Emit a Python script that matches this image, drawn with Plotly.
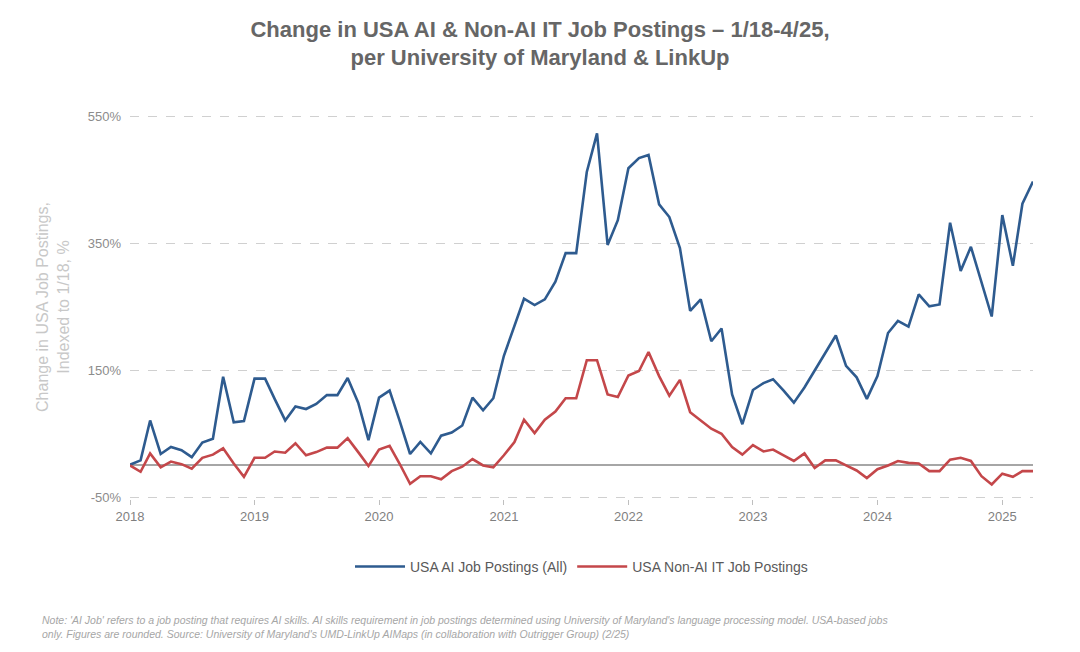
import pandas as pd
import plotly.graph_objects as go

months = pd.date_range("2018-01-01", "2025-04-01", freq="MS")

ai_postings = [
    1, 8, 71, 18, 29, 24, 13, 36, 42, 140, 68, 70,
    137, 137, 105, 71, 93, 89, 97, 111, 111, 138, 99, 40,
    107, 118, 71, 18, 37, 19, 47, 52, 63, 107, 87, 106,
    173, 220, 263, 253, 262, 290, 335, 335, 463, 524, 348, 387,
    469, 485, 490, 412, 392, 343, 244, 262, 196, 216, 112, 65,
    119, 130, 136, 118, 99, 123, 149, 178, 205, 157, 139, 105,
    141, 209, 228, 219, 270, 251, 254, 383, 307, 345, 290, 235,
    395, 315, 413, 448,
]
non_ai_postings = [
    0, -10, 19, -3, 6, 2, -5, 12, 17, 27, 3, -18,
    12, 12, 22, 20, 35, 16, 21, 28, 28, 43, 21, -1,
    25, 31, 3, -29, -17, -17, -22, -9, -2, 10, 0, -3,
    16, 37, 72, 51, 72, 85, 106, 106, 166, 166, 112, 108,
    142, 149, 179, 141, 110, 135, 84, 71, 58, 50, 29, 17,
    32, 22, 25, 16, 7, 19, -4, 8, 8, 0, -8, -20,
    -6, 0, 7, 4, 3, -9, -9, 9, 12, 7, -17, -30,
    -13, -18, -9, -9,
]
year_ticks = [str(y) for y in range(2018, 2026)]
y_ticks = [-50, 150, 350, 550]

font = "Liberation Sans, Arial, sans-serif"

fig = go.Figure()
fig.add_trace(go.Scatter(x=months, y=ai_postings, mode="lines",
                         name="USA AI Job Postings (All)",
                         line=dict(color="#2e5b8f", width=2.6)))
fig.add_trace(go.Scatter(x=months, y=non_ai_postings, mode="lines",
                         name="USA Non-AI IT Job Postings",
                         line=dict(color="#c4474a", width=2.6)))

# page body adds an 8px margin, so the figure is a bit smaller than the window
fig.update_layout(
    width=1064, height=636,
    paper_bgcolor="white", plot_bgcolor="white",
    margin=dict(l=122, r=39, t=107, b=145),
    font=dict(family=font, color="#7f7f7f"),
    title=dict(
        text="<b>Change in USA AI & Non-AI IT Job Postings – 1/18-4/25,<br>per University of Maryland & LinkUp</b>",
        x=0.5, xanchor="center", y=0.955, yanchor="top",
        font=dict(size=22, color="#666666"),
    ),
    showlegend=True,
    legend=dict(orientation="h", x=0.5, xanchor="center", y=-0.135, yanchor="top",
                font=dict(size=14, color="#595959"), itemwidth=50),
    xaxis=dict(
        range=[months[0], months[-1]],
        tickvals=[pd.Timestamp(y + "-01-01") for y in year_ticks],
        ticktext=year_ticks,
        showgrid=False, zeroline=False,
        ticks="outside", ticklen=5, tickcolor="#bfbfbf",
        tickfont=dict(size=13, color="#7f7f7f"),
    ),
    yaxis=dict(
        range=[-53, 553], tickvals=y_ticks,
        ticktext=[f"{v}%" for v in y_ticks],
        ticklabelstandoff=8,
        showgrid=True, gridcolor="#d0d0d0", griddash="dash", gridwidth=1,
        zeroline=True, zerolinecolor="#a6a6a6", zerolinewidth=1.5,
        tickfont=dict(size=13, color="#8c8c8c"),
        title=dict(text="Change in USA Job Postings,<br>Indexed to 1/18, %",
                   font=dict(size=16, color="#c8c8c8"), standoff=14),
    ),
)
fig.add_annotation(
    text="<i>Note: 'AI Job' refers to a job posting that requires AI skills. AI skills requirement in job postings determined using University of Maryland's language processing model. USA-based jobs<br>only. Figures are rounded. Source: University of Maryland's UMD-LinkUp AIMaps (in collaboration with Outrigger Group) (2/25)</i>",
    xref="paper", yref="paper", x=-0.1, y=-0.295, xanchor="left", yanchor="top",
    align="left", showarrow=False, font=dict(size=10.5, color="#a6a6a6"),
)

fig.write_html("out.html")
